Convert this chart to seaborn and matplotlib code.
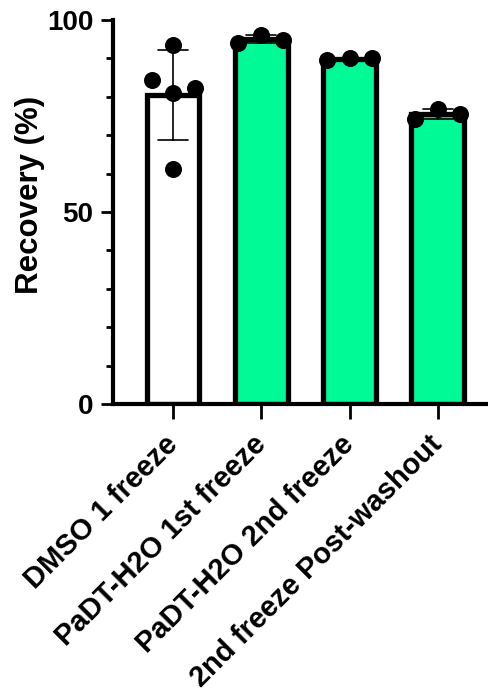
import matplotlib
matplotlib.use("Agg")
import matplotlib.pyplot as plt
import seaborn as sns
import pandas as pd
import numpy as np
from matplotlib.ticker import MultipleLocator

categories = ["DMSO 1 freeze", "PaDT-H2O 1st freeze", "PaDT-H2O 2nd freeze", "2nd freeze Post-washout"]
dmso_1_freeze = [93.5, 84.4, 81.1, 82.2, 61.2]
padt_1st_freeze = [94.0, 96.2, 94.8]
padt_2nd_freeze = [89.6, 90.1, 90.0]
post_washout = [74.3, 76.8, 75.6]
bar_colors = ["#FFFFFF", "#00FA96", "#00FA96", "#00FA96"]
ylabel = "Recovery (%)"

series = [dmso_1_freeze, padt_1st_freeze, padt_2nd_freeze, post_washout]
rows = []
for cat, vals in zip(categories, series):
    for v in vals:
        rows.append({"group": cat, "value": v})
df = pd.DataFrame(rows)

sns.set_theme(style="ticks")
plt.rcParams['font.family'] = ['Liberation Sans', 'DejaVu Sans']
plt.rcParams['font.weight'] = 'bold'
plt.rcParams['text.color'] = 'black'
plt.rcParams['axes.labelcolor'] = 'black'
plt.rcParams['xtick.color'] = 'black'
plt.rcParams['ytick.color'] = 'black'
plt.rcParams['axes.edgecolor'] = 'black'

fig = plt.figure(figsize=(4.89, 6.91), dpi=100)
ax = fig.add_axes([113/489, (691-404)/691, 1 - 113/489, (404-20)/691])

sns.barplot(data=df, x="group", y="value", hue="group", order=categories,
            palette=dict(zip(categories, bar_colors)), legend=False, saturation=1,
            errorbar="sd", capsize=0.34, width=0.6,
            edgecolor="black", linewidth=3.8,
            err_kws={"color": "black", "linewidth": 1.2}, ax=ax)

# scatter points spread horizontally like Prism
spread5 = [0.0, -0.24, 0.0, 0.25, 0.0]
spread3 = [-0.26, 0.0, 0.25]
for i, vals in enumerate(series):
    offs = spread5 if len(vals) == 5 else spread3
    xs = [i + o for o in offs]
    ax.scatter(xs, vals, s=150, color="black", zorder=5, linewidths=0, clip_on=False)

ax.set_xlim(-0.68, 3.58)
ax.set_ylim(0, 100)
ax.yaxis.set_major_locator(MultipleLocator(50))
ax.yaxis.set_minor_locator(MultipleLocator(10))
ax.set_xlabel("")
ax.set_ylabel(ylabel, fontsize=22.5, fontweight="bold", color="black")
ax.yaxis.set_label_coords(-0.182, 0.545)

sns.despine(ax=ax)
for s in ["left", "bottom"]:
    ax.spines[s].set_linewidth(3)
    ax.spines[s].set_color("black")
ax.tick_params(axis="y", which="major", length=9, width=2, labelsize=20, pad=5, colors="black")
ax.tick_params(axis="y", which="minor", length=5, width=2, colors="black")
ax.tick_params(axis="x", which="major", length=11, width=2, labelsize=21, pad=15, colors="black")
for lab in ax.get_yticklabels():
    lab.set_fontweight("bold")
ax.set_xticks(range(len(categories)))
ax.set_xticklabels(categories, rotation=45, ha="right", va="center",
                   rotation_mode="anchor", fontweight="bold")

fig.savefig("out.png", dpi=100)
